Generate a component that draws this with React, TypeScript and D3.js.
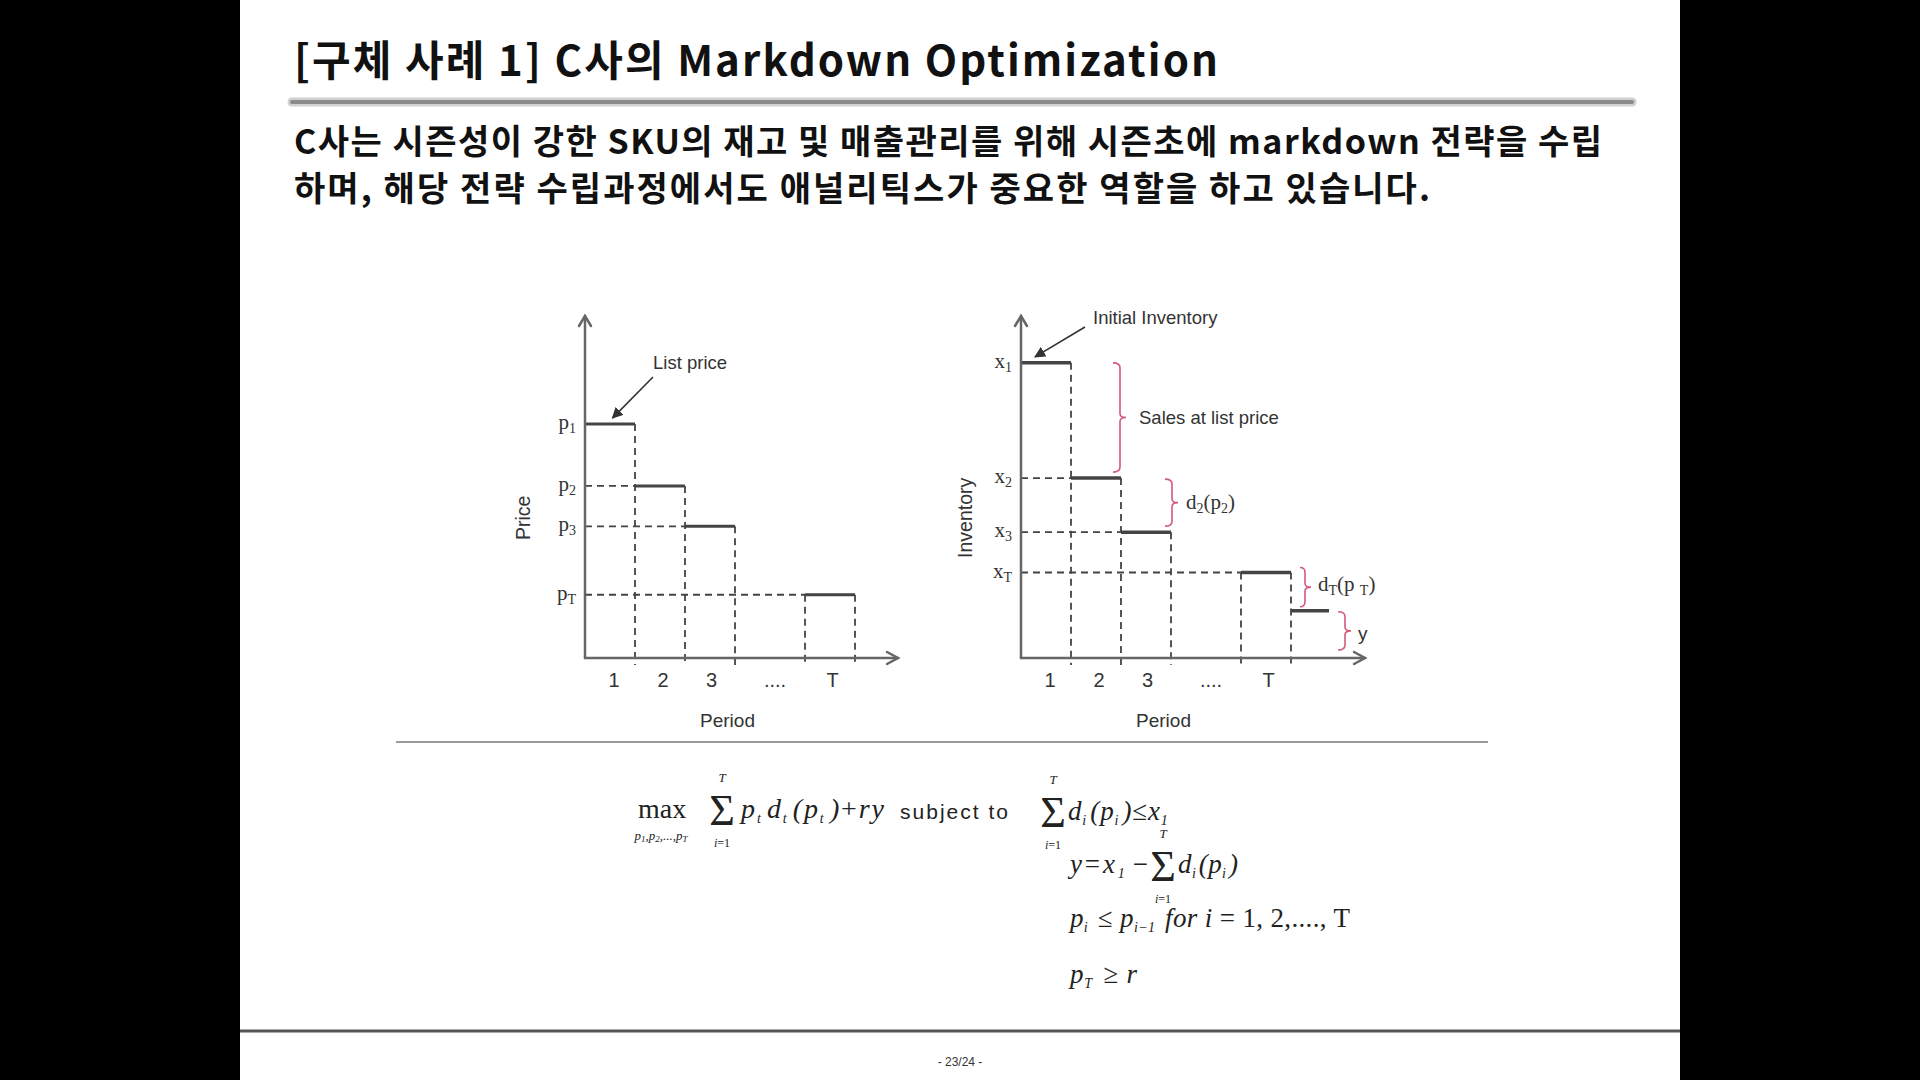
import React from 'react';
import * as d3 from 'd3';

// ---------- text content ----------
const titleText = '[구체 사례 1] C사의 Markdown Optimization';
const bodyLines = [
  'C사는 시즌성이 강한 SKU의 재고 및 매출관리를 위해 시즌초에 markdown 전략을 수립',
  '하며, 해당 전략 수립과정에서도 애널리틱스가 중요한 역할을 하고 있습니다.',
];
const pageLabel = '- 23/24 -';

// ---------- chart data ----------
const periodLabels = ['1', '2', '3', '....', 'T'];
const periodLabelPos = [0.58, 1.56, 2.53, 3.8, 4.95];

// price chart
const priceSubs = ['1', '2', '3', 'T'];
const priceLevels = [68.4, 50.3, 38.5, 18.5];
const priceStepStart = [0, 1, 2, 4.4];

// inventory chart
const invSubs = ['1', '2', '3', 'T'];
const invLevels = [86.3, 52.6, 36.8, 25];
const invStepStart = [0, 1, 2, 4.4];
const leftoverLevel = 13.8;
const leftoverStart = 5.4;
const leftoverEnd = 6.16;

const SANS = '"Liberation Sans", Arial, sans-serif';
const SERIF = '"Liberation Serif", "Times New Roman", serif';
const KR = '"Noto Sans CJK KR", "Noto Sans", sans-serif';
const INK = '#333';
const AXIS = '#666';
const STEP = '#444';
const BRACE = '#d45a7c';

function bracePath(x: number, y0: number, y1: number, h = 7, tip = 6) {
  const ym = (y0 + y1) / 2;
  const r = 5;
  return `M${x - h},${y0} Q${x},${y0} ${x},${y0 + r} L${x},${ym - 4} Q${x},${ym} ${x + tip},${ym} Q${x},${ym} ${x},${ym + 4} L${x},${y1 - r} Q${x},${y1} ${x - h},${y1}`;
}

function Axes({ x0, y0, xEnd, yTop }: { x0: number; y0: number; xEnd: number; yTop: number }) {
  return (
    <g stroke={AXIS} strokeWidth={2.5} fill="none" strokeLinecap="round">
      <line x1={x0} y1={y0} x2={x0} y2={yTop} />
      <line x1={x0} y1={y0} x2={xEnd} y2={y0} />
      <path d={`M${x0 - 6},${yTop + 10} L${x0},${yTop} L${x0 + 6},${yTop + 10}`} />
      <path d={`M${xEnd - 11},${y0 - 6} L${xEnd},${y0} L${xEnd - 11},${y0 + 6}`} />
    </g>
  );
}

function StepChart({
  x, y, levels, starts, subs, letter, stepWidth, xMax, axisLabel, axisLabelX,
}: any) {
  const y0 = y(0);
  const dashed: any[] = [];
  levels.forEach((lv: number, i: number) => {
    const s = starts[i];
    if (i > 0) {
      dashed.push(<line key={`h${i}`} x1={x(0)} x2={x(s)} y1={y(lv)} y2={y(lv)} />);
      if (Math.abs(s - (starts[i - 1] + 1)) > 0.01) {
        dashed.push(<line key={`vs${i}`} x1={x(s)} x2={x(s)} y1={y(lv)} y2={y0 + 7} />);
      }
    }
    dashed.push(<line key={`ve${i}`} x1={x(s + 1)} x2={x(s + 1)} y1={y(lv)} y2={y0 + 7} />);
  });
  return (
    <g>
      <g stroke={STEP} strokeWidth={1.8} strokeDasharray="7,5" fill="none">{dashed}</g>
      <g stroke={STEP} strokeWidth={stepWidth} fill="none">
        {levels.map((lv: number, i: number) => (
          <line key={i} x1={x(starts[i])} x2={x(starts[i] + 1)} y1={y(lv)} y2={y(lv)} />
        ))}
      </g>
      <Axes x0={x(0)} y0={y0} xEnd={x(xMax)} yTop={y(100)} />
      <g fontFamily={SERIF} fontSize={21} fill={INK} textAnchor="end">
        {levels.map((lv: number, i: number) => (
          <text key={i} x={x(0) - 9} y={y(lv) + 5}>
            {letter}
            <tspan fontSize={14} dy={4}>{subs[i]}</tspan>
          </text>
        ))}
      </g>
      <g fontFamily={SANS} fontSize={20} fill={INK} textAnchor="middle">
        {periodLabels.map((l, i) => (
          <text key={i} x={x(periodLabelPos[i])} y={y0 + 29}>{l}</text>
        ))}
      </g>
      <text x={x(2.85)} y={y0 + 69} fontFamily={SANS} fontSize={19} fill={INK} textAnchor="middle">Period</text>
      <text
        transform={`translate(${axisLabelX},${y(41)}) rotate(-90)`}
        fontFamily={SANS} fontSize={19.5} fill={INK} textAnchor="middle" dominantBaseline="central"
      >{axisLabel}</text>
    </g>
  );
}

function Sum({ cx, base, top = 'T' }: { cx: number; base: number; top?: string }) {
  return (
    <g fontFamily={SERIF} fill="#222" textAnchor="middle">
      <text x={cx} y={base + 6} fontSize={44}>Σ</text>
      <text x={cx} y={base - 37} fontSize={13} fontStyle="italic">{top}</text>
      <text x={cx} y={base + 28} fontSize={12} fontStyle="italic">i<tspan fontStyle="normal">=1</tspan></text>
    </g>
  );
}

export default function App() {
  const xL = d3.scaleLinear().domain([0, 6.26]).range([585, 898]);
  const yL = d3.scaleLinear().domain([0, 100]).range([658, 316]);
  const xR = d3.scaleLinear().domain([0, 6.88]).range([1021, 1365]);
  const yR = d3.scaleLinear().domain([0, 100]).range([658, 316]);

  const sub = (t: string, size = 15, dy = 6) => (
    <>
      <tspan fontSize={size} dy={dy}>{t}</tspan>
      <tspan dy={-dy}>{'\u200a'}</tspan>
    </>
  );

  return (
    <div style={{ position: 'absolute', left: 0, top: 0 }}>
      <svg width={1920} height={1080} style={{ display: 'block' }}>
        <defs>
          <marker id="ah" viewBox="0 0 10 10" refX="9" refY="5" markerWidth="7" markerHeight="7" orient="auto">
            <path d="M0,0 L10,5 L0,10 z" fill="#333" />
          </marker>
        </defs>
        <rect x={0} y={0} width={1920} height={1080} fill="#000" />
        <rect x={240} y={0} width={1440} height={1080} fill="#fff" />

        {/* title */}
        <text x={294} y={76} fontFamily={KR} fontSize={42} fontWeight={700} fill="#111" textLength={924}>{titleText}</text>
        <line x1={292} x2={1632} y1={102} y2={102} stroke="#d0d0d0" strokeWidth={9} strokeLinecap="round" />
        <line x1={292} x2={1632} y1={102} y2={102} stroke="#8a8a8a" strokeWidth={4} strokeLinecap="round" />

        {/* body */}
        <text x={294} y={154} fontFamily={KR} fontSize={34} fontWeight={700} fill="#111" textLength={1308}>{bodyLines[0]}</text>
        <text x={294} y={201} fontFamily={KR} fontSize={34} fontWeight={700} fill="#111" textLength={1136}>{bodyLines[1]}</text>

        {/* left chart: price */}
        <StepChart x={xL} y={yL} levels={priceLevels} starts={priceStepStart} subs={priceSubs}
          letter="p" stepWidth={3} xMax={6.26} axisLabel="Price" axisLabelX={523} />
        <text x={653} y={369} fontFamily={SANS} fontSize={18.5} fill={INK}>List price</text>
        <line x1={653} y1={377} x2={xL(0.55)} y2={yL(priceLevels[0]) - 6} stroke="#333" strokeWidth={1.6} markerEnd="url(#ah)" />

        {/* right chart: inventory */}
        <StepChart x={xR} y={yR} levels={invLevels} starts={invStepStart} subs={invSubs}
          letter="x" stepWidth={3.5} xMax={6.88} axisLabel="Inventory" axisLabelX={965} />
        <line x1={xR(leftoverStart)} x2={xR(leftoverEnd)} y1={yR(leftoverLevel)} y2={yR(leftoverLevel)} stroke={STEP} strokeWidth={3.5} />
        <text x={1093} y={324} fontFamily={SANS} fontSize={18.5} fill={INK}>Initial Inventory</text>
        <line x1={1085} y1={327} x2={xR(0.28)} y2={yR(invLevels[0]) - 6} stroke="#333" strokeWidth={1.6} markerEnd="url(#ah)" />

        <g stroke={BRACE} strokeWidth={1.6} fill="none">
          <path d={bracePath(xR(1.98), yR(invLevels[0]), yR(invLevels[1]) - 6)} />
          <path d={bracePath(xR(3.02), yR(invLevels[1]) + 1, yR(invLevels[2]) - 6)} />
          <path d={bracePath(xR(5.68), yR(invLevels[3]) - 5, yR(leftoverLevel) - 4, 5, 6)} />
          <path d={bracePath(xR(6.48), yR(leftoverLevel) + 1, yR(0) - 8)} />
        </g>
        <text x={1139} y={424} fontFamily={SANS} fontSize={18.5} fill={INK}>Sales at list price</text>
        <text x={1186} y={509} fontFamily={SERIF} fontSize={21} fill={INK}>d<tspan fontSize={14} dy={4}>2</tspan><tspan dy={-4}>(p</tspan><tspan fontSize={14} dy={4}>2</tspan><tspan dy={-4}>)</tspan></text>
        <text x={1318} y={591} fontFamily={SERIF} fontSize={21} fill={INK}>d<tspan fontSize={14} dy={4}>T</tspan><tspan dy={-4}>(p </tspan><tspan fontSize={14} dy={4}>T</tspan><tspan dy={-4}>)</tspan></text>
        <text x={1358} y={640} fontFamily={SANS} fontSize={19} fill={INK}>y</text>

        {/* separator */}
        <line x1={396} x2={1488} y1={742} y2={742} stroke="#9a9a9a" strokeWidth={2} />

        {/* objective */}
        <text x={638} y={818} fontFamily={SERIF} fontSize={28} fill="#222">max</text>
        <text x={661} y={840} fontFamily={SERIF} fontSize={13} fontStyle="italic" fill="#222" textAnchor="middle">
          p<tspan fontSize={9} dy={2}>1</tspan><tspan dy={-2}>,p</tspan><tspan fontSize={9} dy={2}>2</tspan><tspan dy={-2}>,...,p</tspan><tspan fontSize={9} dy={2}>T</tspan>
        </text>
        <Sum cx={722} base={819} />
        <text x={741} y={818} fontFamily={SERIF} fontSize={28} fontStyle="italic" fill="#222" textLength={143}>
          p{sub('t', 14, 5)}d{sub('t', 14, 5)}(p{sub('t', 14, 5)})<tspan fontStyle="normal">+</tspan>ry
        </text>
        <text x={900} y={819} fontFamily={SANS} fontSize={21} fill="#222" textLength={108}>subject to</text>

        {/* constraints */}
        <Sum cx={1053} base={821} />
        <text x={1068} y={820} fontFamily={SERIF} fontSize={27} fontStyle="italic" fill="#222" textLength={103}>
          d{sub('i', 14, 5)}(p{sub('i', 14, 5)})<tspan fontStyle="normal">≤</tspan>x{sub('1', 14, 5)}
        </text>

        <text x={1070} y={873} fontFamily={SERIF} fontSize={27} fontStyle="italic" fill="#222" textLength={78}>
          y<tspan fontStyle="normal">=</tspan>x{sub('1', 14, 5)}<tspan fontStyle="normal">−</tspan>
        </text>
        <Sum cx={1163} base={875} />
        <text x={1178} y={873} fontFamily={SERIF} fontSize={27} fontStyle="italic" fill="#222" textLength={60}>
          d{sub('i', 14, 5)}(p{sub('i', 14, 5)})
        </text>

        <text x={1070} y={927} fontFamily={SERIF} fontSize={27} fontStyle="italic" fill="#222" textLength={280}>
          p{sub('i', 14, 5)}<tspan fontStyle="normal"> ≤ </tspan>p{sub('i−1', 14, 5)} for i <tspan fontStyle="normal">= 1, 2,...., T</tspan>
        </text>

        <text x={1070} y={983} fontFamily={SERIF} fontSize={27} fontStyle="italic" fill="#222" textLength={67}>
          p{sub('T', 14, 5)}<tspan fontStyle="normal"> ≥ </tspan>r
        </text>

        {/* footer */}
        <line x1={240} x2={1680} y1={1031} y2={1031} stroke="#555" strokeWidth={3} />
        <text x={960} y={1066} fontFamily={SANS} fontSize={12} fill="#333" textAnchor="middle">{pageLabel}</text>
      </svg>
    </div>
  );
}
